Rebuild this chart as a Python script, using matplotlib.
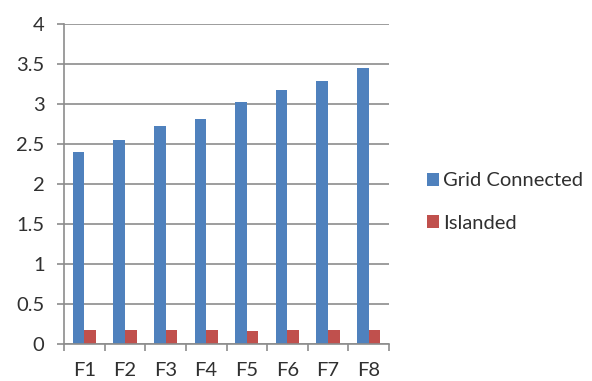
import matplotlib
matplotlib.use("Agg")
import matplotlib.pyplot as plt
from matplotlib.patches import Patch
import numpy as np

categories = ["F1", "F2", "F3", "F4", "F5", "F6", "F7", "F8"]
grid_connected = [2.40, 2.55, 2.73, 2.81, 3.03, 3.18, 3.29, 3.45]
islanded = [0.18, 0.18, 0.18, 0.18, 0.16, 0.18, 0.18, 0.18]
y_ticks = [0, 0.5, 1, 1.5, 2, 2.5, 3, 3.5, 4]
y_tick_labels = ["0", "0.5", "1", "1.5", "2", "2.5", "3", "3.5", "4"]

blue = "#4F81BD"
red = "#C0504D"
grid_col = "#8C8C8C"
text_col = "#303030"
fs = 14.5

plt.rcParams["font.family"] = ["Lato", "DejaVu Sans"]

fig = plt.figure(figsize=(5.92, 3.81), dpi=100)
ax = fig.add_axes([64 / 592, 1 - 344 / 381, (389 - 64) / 592, (344 - 24) / 381])

x = np.arange(len(categories))
w = 1 / 3.5
ax.bar(x - w / 2, grid_connected, width=w, color=blue, zorder=3)
ax.bar(x + w / 2, islanded, width=w, color=red, zorder=3)

ax.set_xlim(-0.5, len(categories) - 0.5)
ax.set_ylim(0, 4)

ax.set_yticks(y_ticks)
ax.set_yticklabels(y_tick_labels)
ax.yaxis.grid(True, color=grid_col, linewidth=1.2, zorder=0)
ax.tick_params(axis="y", length=5, width=1.2, color=grid_col, pad=9,
               labelsize=fs, labelcolor=text_col)

# category boundaries as ticks, labels centred beneath each group
ax.set_xticks(np.arange(len(categories) + 1) - 0.5)
ax.set_xticklabels([])
ax.set_xticks(x, minor=True)
ax.set_xticklabels(categories, minor=True)
ax.tick_params(axis="x", which="major", length=5, width=1.2, color=grid_col)
ax.tick_params(axis="x", which="minor", length=0, pad=13,
               labelsize=fs, labelcolor=text_col)

for side in ("top", "right"):
    ax.spines[side].set_visible(False)
for side in ("left", "bottom"):
    ax.spines[side].set_color(grid_col)
    ax.spines[side].set_linewidth(1.2)
ax.spines["bottom"].set_zorder(4)

handles = [Patch(facecolor=blue, label="Grid Connected"),
           Patch(facecolor=red, label="Islanded")]
fig.legend(handles=handles, loc="center left", bbox_to_anchor=(427 / 592, 1 - 202 / 381),
           frameon=False, fontsize=fs, handlelength=0.6, handleheight=0.6,
           handletextpad=0.2, labelspacing=1.25, labelcolor=text_col,
           borderpad=0, borderaxespad=0)

fig.savefig("out.png", dpi=100)
